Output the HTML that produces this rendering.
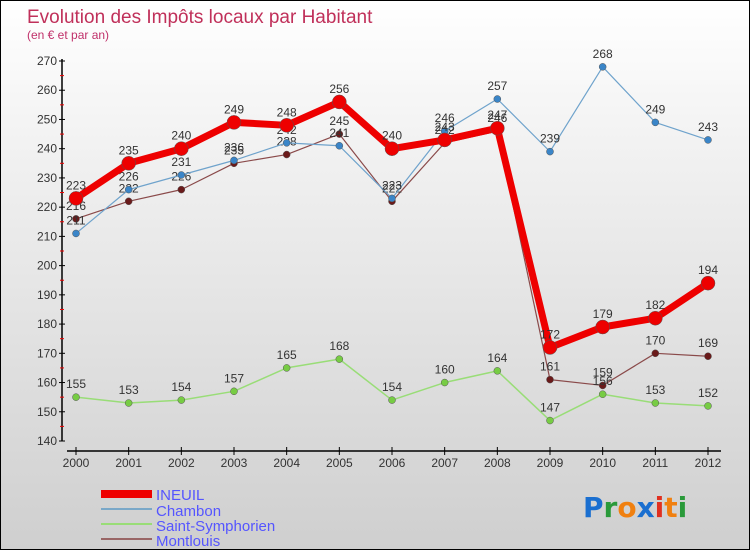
<!DOCTYPE html>
<html><head><meta charset="utf-8"><style>
body{margin:0}
#c{width:750px;height:550px;position:relative;box-sizing:border-box;border:1px solid #000;background:linear-gradient(#fff,#f0f0f0 30%,#cfcfcf);font-family:"Liberation Sans",sans-serif;overflow:hidden}
</style></head><body>
<div id="c">
<svg width="750" height="550" style="position:absolute;left:0;top:0" id="svg">
<text x="26" y="22" font-size="19" fill="#c0305a">Evolution des Impôts locaux par Habitant</text>
<text x="26" y="38" font-size="12" fill="#c0306a">(en € et par an)</text>
<g id="axes"></g><g id="series"></g>
<g>
<rect x="100" y="489" width="51" height="8" fill="#e00"/>
<text x="155" y="499" font-size="15" fill="#5555ff">INEUIL</text>
<line x1="100" y1="508" x2="151" y2="508" stroke="#7aa8c8" stroke-width="2"/>
<text x="155" y="515" font-size="15" fill="#5555ff">Chambon</text>
<line x1="100" y1="523" x2="151" y2="523" stroke="#99dd77" stroke-width="2"/>
<text x="155" y="530" font-size="15" fill="#5555ff">Saint-Symphorien</text>
<line x1="100" y1="538" x2="151" y2="538" stroke="#996666" stroke-width="2"/>
<text x="155" y="545" font-size="15" fill="#5555ff">Montlouis</text>
</g>
<g font-size="28" font-weight="bold" font-family="'DejaVu Sans',sans-serif">
<text x="582" y="516"><tspan fill="#1a6fd0">P</tspan><tspan fill="#2a9a3a">r</tspan><tspan fill="#f08010">o</tspan><tspan fill="#1a6fd0">x</tspan><tspan fill="#e03020">i</tspan><tspan fill="#f08010">t</tspan><tspan fill="#2a9a3a">i</tspan></text>
</g>
</svg>
</div>
<script>
const years=[2000,2001,2002,2003,2004,2005,2006,2007,2008,2009,2010,2011,2012];
const yTicks=[140,150,160,170,180,190,200,210,220,230,240,250,260,270];
const ineuil=[223,235,240,249,248,256,240,243,247,172,179,182,194];
const chambon=[211,226,231,236,242,241,223,246,257,239,268,249,243];
const saintSymphorien=[155,153,154,157,165,168,154,160,164,147,156,153,152];
const montlouis=[216,222,226,235,238,245,222,242,246,161,159,170,169];
const NS="http://www.w3.org/2000/svg";
function X(i){return 75+i*(707-75)/(years.length-1);}
function Y(v){return 440-(v-140)*380/130;}
function mk(tag,attrs,parent){const e=document.createElementNS(NS,tag);for(const k in attrs)e.setAttribute(k,attrs[k]);parent.appendChild(e);return e;}
const ax=document.getElementById('axes');
const yl=mk('line',{x1:61,y1:58,x2:61,y2:440,stroke:'#000','stroke-width':1.5},ax);


const xl=mk('line',{x1:66,y1:450,x2:720,y2:450,stroke:'#000','stroke-width':1.5},ax);


yTicks.forEach((v,i)=>{
 mk('line',{x1:58,x2:64,y1:Y(v),y2:Y(v),stroke:'#000'},ax);
 if(i<yTicks.length-1) mk('line',{x1:59,x2:63,y1:Y(v+5),y2:Y(v+5),stroke:'#e00'},ax);
 const t=mk('text',{x:56,y:Y(v)+4,'font-size':12,fill:'#333','text-anchor':'end'},ax);
 t.textContent=v;
 
 
});
years.forEach((y,i)=>{
 mk('line',{x1:X(i),x2:X(i),y1:446,y2:454,stroke:'#000'},ax);
 const t=mk('text',{x:X(i),y:466,'font-size':12,fill:'#333','text-anchor':'middle'},ax);
 t.textContent=y;
 
 
});
const sg=document.getElementById('series');
function series(name,data,color,w,r,dot){
 const g=mk('g',{},sg);
 
 
 const p=mk('polyline',{points:data.map((v,i)=>X(i)+','+Y(v)).join(' '),fill:'none',stroke:color,'stroke-width':w,'stroke-linejoin':'round'},g);
 
 
 data.forEach((v,i)=>{
  const c=mk('circle',{cx:X(i),cy:Y(v),r:r,fill:dot,stroke:'#555','stroke-width':0.5},g);
  
  
  const t=mk('text',{x:X(i),y:Y(v)-9,'font-size':12,fill:'#333','text-anchor':'middle'},g);
  t.textContent=v;
  
  
 });
}
series('montlouis',montlouis,'#8a4a4a',1.2,3.5,'#6a1a1a');
series('saint-symphorien',saintSymphorien,'#99dd77',1.5,3.5,'#77cc44');
series('chambon',chambon,'#6fa3cc',1.2,3.5,'#3a85c8');
series('ineuil',ineuil,'#ee0000',7,7,'#ee0000');
</script>
</body></html>
